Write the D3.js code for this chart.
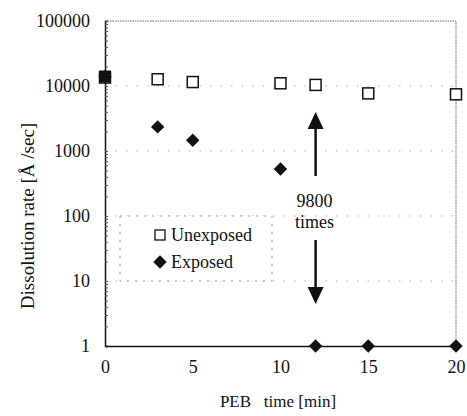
<!DOCTYPE html>
<html>
<head>
<meta charset="utf-8">
<script src="https://cdn.jsdelivr.net/npm/d3@7"></script>
<style>
  body { margin: 0; background: #fff; }
  svg text { font-family: "Liberation Serif"; fill: #111; }
</style>
</head>
<body>
<svg id="chart" width="467" height="416"></svg>
<script>
// data
var pebTime = [0, 3, 5, 10, 12, 15, 20];
var unexposed = [13500, 12700, 11500, 11000, 10400, 7700, 7450];
var exposed = [14000, 2350, 1460, 530, 1, 1, 1];
var xTicks = [0, 5, 10, 15, 20];
var yTicks = [1, 10, 100, 1000, 10000, 100000];

var serif = "Liberation Serif";

function drawChart(){
  var svg = d3.select("#chart");
  var pLeft = 105, pRight = 456, pTop = 21, pBottom = 346;

  var x = d3.scaleLinear().domain([0, 20]).range([pLeft, pRight]);
  var y = d3.scaleLog().domain([1, 100000]).range([pBottom, pTop]);

  // faint dotted gridlines
  svg.selectAll(".grid").data(yTicks.slice(1, 5)).enter().append("line")
    .attr("x1", pLeft).attr("x2", pRight)
    .attr("y1", function(d){ return y(d); }).attr("y2", function(d){ return y(d); })
    .attr("stroke", "#aaa").attr("stroke-width", 1)
    .attr("stroke-dasharray", "1.5,9");

  // top and right frame, dotted grey
  svg.append("path")
    .attr("d", "M" + pLeft + "," + pTop + "H" + pRight + "V" + pBottom)
    .attr("fill", "none").attr("stroke", "#666").attr("stroke-width", 1)
    .attr("stroke-dasharray", "1.5,1");

  // left axis with log minor ticks inside
  var minor = [];
  for (var e = 0; e < 5; e++) {
    for (var m = 1; m < 10; m++) minor.push(m * Math.pow(10, e));
  }
  minor.push(100000);
  var yAxis = d3.axisRight(y).tickValues(minor).tickSize(3).tickFormat("");
  var gy = svg.append("g").attr("transform", "translate(" + pLeft + ",0)").call(yAxis);
  gy.select(".domain").attr("stroke", "#111").attr("stroke-width", 1.5);
  gy.selectAll(".tick line").attr("stroke", "#555");

  // bottom axis line
  var xAxis = d3.axisBottom(x).tickValues(xTicks).tickSize(0).tickPadding(14)
    .tickFormat(d3.format("d"));
  var gx = svg.append("g").attr("transform", "translate(0," + pBottom + ")").call(xAxis);
  gx.attr("font-family", serif).attr("font-size", 18);
  gx.select(".domain").attr("stroke", "#111").attr("stroke-width", 1.5);
  gx.selectAll("text").attr("fill", "#111");

  // y tick labels
  svg.selectAll(".ylab").data(yTicks).enter().append("text")
    .attr("x", 90).attr("y", function(d){ return y(d); })
    .attr("dy", "0.35em").attr("text-anchor", "end")
    .attr("font-family", serif).attr("font-size", 18)
    .text(function(d){ return d; });

  // axis titles
  svg.append("text")
    .attr("transform", "translate(27,216) rotate(-90)")
    .attr("dy", "0.35em").attr("text-anchor", "middle")
    .attr("font-family", serif).attr("font-size", 19)
    .style("white-space", "pre")
    .text("Dissolution rate [Å /sec]");

  svg.append("text")
    .attr("x", 278).attr("y", 407).attr("text-anchor", "middle")
    .attr("font-family", serif).attr("font-size", 17).style("white-space", "pre")
    .text("PEB   time [min]");

  // unexposed: open squares
  svg.selectAll(".sq").data(pebTime).enter().append("rect")
    .attr("x", function(d){ return x(d) - 5.5; })
    .attr("y", function(d, i){ return y(unexposed[i]) - 5.5; })
    .attr("width", 11).attr("height", 11)
    .attr("fill", "#fff").attr("stroke", "#111").attr("stroke-width", 1.5);

  // exposed: filled diamonds
  var diamond = d3.symbol().type(d3.symbolSquare).size(90);
  svg.selectAll(".dm").data(pebTime).enter().append("path")
    .attr("d", diamond)
    .attr("transform", function(d, i){ return "translate(" + x(d) + "," + y(exposed[i]) + ") rotate(45)"; })
    .attr("fill", "#111");
  // first point shows as a filled square at t=0
  svg.append("rect")
    .attr("x", x(pebTime[0]) - 6).attr("y", y(exposed[0]) - 6)
    .attr("width", 12).attr("height", 12).attr("fill", "#111");

  // 9800 times annotation
  var ax = x(12);
  svg.append("line").attr("x1", ax).attr("x2", ax).attr("y1", 126).attr("y2", 176)
    .attr("stroke", "#111").attr("stroke-width", 2.5);
  svg.append("path").attr("d", "M" + (ax - 8) + ",129L" + ax + ",112L" + (ax + 8) + ",129Z").attr("fill", "#111");
  svg.append("line").attr("x1", ax).attr("x2", ax).attr("y1", 240).attr("y2", 290)
    .attr("stroke", "#111").attr("stroke-width", 2.5);
  svg.append("path").attr("d", "M" + (ax - 8) + ",287L" + ax + ",304L" + (ax + 8) + ",287Z").attr("fill", "#111");
  svg.append("text").attr("x", ax - 1).attr("y", 207).attr("text-anchor", "middle")
    .attr("font-family", serif).attr("font-size", 18).text("9800");
  svg.append("text").attr("x", ax - 1).attr("y", 228).attr("text-anchor", "middle")
    .attr("font-family", serif).attr("font-size", 18).text("times");

  // legend
  var lg = svg.append("g");
  lg.append("rect").attr("x", 120).attr("y", y(100)).attr("width", 152).attr("height", y(10) - y(100))
    .attr("fill", "#fff").attr("stroke", "#999").attr("stroke-width", 1).attr("stroke-dasharray", "2,6");
  var legendItems = ["Unexposed", "Exposed"];
  lg.append("rect").attr("x", 155).attr("y", 230).attr("width", 10).attr("height", 10)
    .attr("fill", "#fff").attr("stroke", "#111").attr("stroke-width", 1.3);
  lg.append("path").attr("d", diamond).attr("transform", "translate(160,262) rotate(45)").attr("fill", "#111");
  lg.selectAll(".lt").data(legendItems).enter().append("text")
    .attr("x", 171).attr("y", function(d, i){ return 241 + i * 27; })
    .attr("font-family", serif).attr("font-size", 18).text(function(d){ return d; });
}

drawChart();
</script>
</body>
</html>
